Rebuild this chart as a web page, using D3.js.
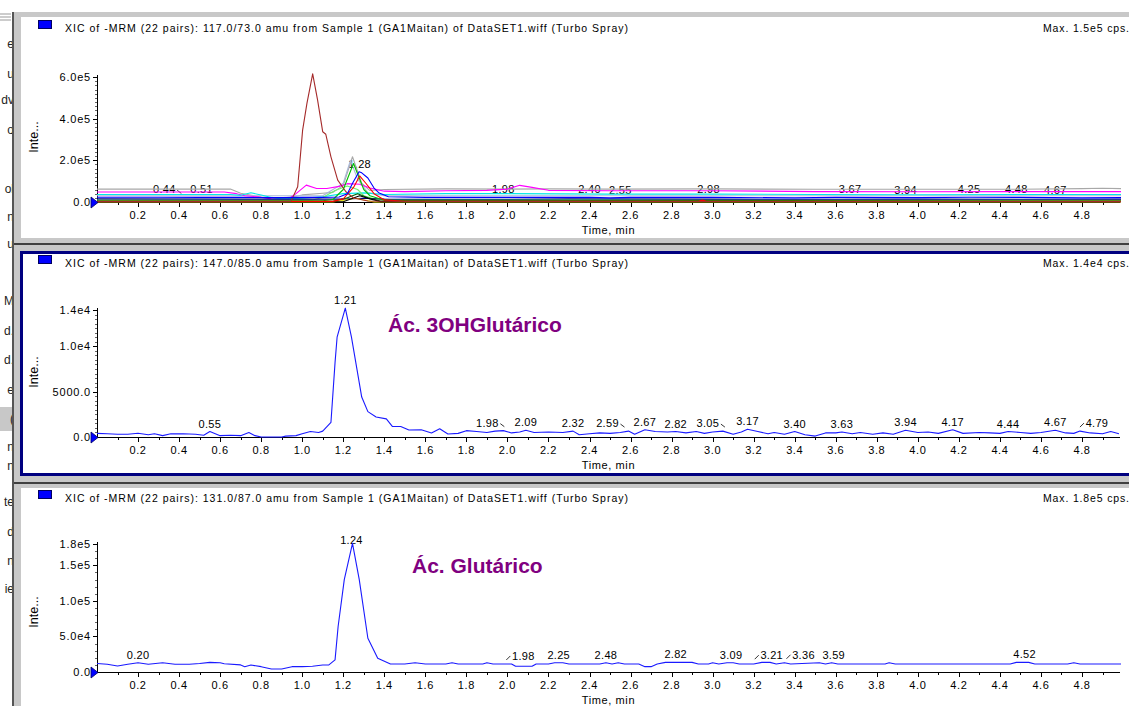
<!DOCTYPE html>
<html><head><meta charset="utf-8">
<script src="https://cdn.jsdelivr.net/npm/d3@7"></script>
<style>body{margin:0;background:#fff;overflow:hidden}svg{display:block}text{font-family:"Liberation Sans",Arial,sans-serif}</style>
</head><body>
<script>
// ---------- DATA ----------
const titles = [
 "XIC of -MRM (22 pairs): 117.0/73.0 amu from Sample 1 (GA1Maitan) of DataSET1.wiff (Turbo Spray)",
 "XIC of -MRM (22 pairs): 147.0/85.0 amu from Sample 1 (GA1Maitan) of DataSET1.wiff (Turbo Spray)",
 "XIC of -MRM (22 pairs): 131.0/87.0 amu from Sample 1 (GA1Maitan) of DataSET1.wiff (Turbo Spray)"
];
const maxTexts = ["Max. 1.5e5 cps.", "Max. 1.4e4 cps.", "Max. 1.8e5 cps."];
const xTicks = [0.2,0.4,0.6,0.8,1.0,1.2,1.4,1.6,1.8,2.0,2.2,2.4,2.6,2.8,3.0,3.2,3.4,3.6,3.8,4.0,4.2,4.4,4.6,4.8];
const yTicks1 = [0, 2e5, 4e5, 6e5], yLabels1 = ["0.0","2.0e5","4.0e5","6.0e5"];
const yTicks2 = [0, 5000, 10000, 14000], yLabels2 = ["0.0","5000.0","1.0e4","1.4e4"];
const yTicks3 = [0, 5e4, 1e5, 1.5e5, 1.8e5], yLabels3 = ["0.0","5.0e4","1.0e5","1.5e5","1.8e5"];
const annot2 = "Ác. 3OHGlutárico", annot3 = "Ác. Glutárico";

// top panel: 117.0/73.0 and overlaid transitions
const top_gray = [[0,62000],[0.65,62000],[0.7,42000],[0.8,24000],[0.9,19000],[0.95,24000],[1.0,34000],[1.1,42000],[1.15,46000],[1.2,80000],[1.245,217000],[1.29,90000],[1.33,55000],[1.4,60000],[1.7,63000],[2.0,62000],[2.2,63000],[2.5,62000],[3.0,63000],[3.5,61000],[4.0,61000],[4.5,61000],[4.8,64000],[4.9,66000],[4.99,64000]];
const top_steel = [[0,30000],[1.1,30000],[1.2,90000],[1.235,200000],[1.27,110000],[1.32,45000],[1.4,30000],[2.5,30000],[4.99,30000]];
const top_magenta = [[0,48000],[0.62,48000],[0.68,40000],[0.72,30000],[0.78,25000],[0.85,15000],[0.93,12000],[0.97,40000],[1.02,81000],[1.07,65000],[1.12,65000],[1.18,75000],[1.22,88000],[1.28,85000],[1.33,67000],[1.4,52000],[1.5,50000],[1.7,54000],[1.9,56000],[2.0,62000],[2.06,80000],[2.12,70000],[2.2,56000],[2.5,54000],[3.0,54000],[3.5,50000],[4.0,49000],[4.5,50000],[4.99,50000]];
const top_cyan = [[0,36000],[0.65,36000],[0.7,32000],[0.75,44000],[0.8,34000],[0.85,22000],[0.9,15000],[1.0,18000],[1.1,25000],[1.2,40000],[1.3,44000],[1.4,36000],[1.7,40000],[2.0,40000],[2.5,38000],[3.0,38000],[3.5,36000],[4.0,35000],[4.5,36000],[4.99,36000]];
const top_lightgreen = [[0,10000],[1.05,10000],[1.1,22000],[1.16,55000],[1.22,77000],[1.27,60000],[1.3,30000],[1.35,15000],[1.45,10000],[4.99,10000]];
const top_green = [[0,6000],[1.1,6000],[1.15,12000],[1.2,60000],[1.25,185000],[1.3,60000],[1.33,30000],[1.4,8000],[4.99,6000]];
const top_darkgreen = [[0,3000],[1.15,3000],[1.22,20000],[1.27,40000],[1.32,20000],[1.38,5000],[4.99,3000]];
const top_red = [[0,3000],[1.15,3000],[1.2,15000],[1.25,70000],[1.28,125000],[1.31,90000],[1.35,40000],[1.4,10000],[1.5,3000],[2.93,3000],[2.95,9000],[2.97,3000],[4.99,3000]];
const top_yellow = [[0,0],[1.15,0],[1.26,18000],[1.35,0],[4.99,0]];
const top_black = [[0,1000],[1.2,1000],[1.28,30000],[1.33,15000],[1.38,2000],[4.99,1000]];
const top_brown = [[0,2000],[0.9,2000],[0.945,3000],[0.978,73000],[1.002,345000],[1.023,473000],[1.051,615000],[1.075,489000],[1.1,337000],[1.115,325000],[1.14,217000],[1.173,105000],[1.213,49000],[1.25,19000],[1.32,5000],[1.5,3000],[4.99,2000]];
const top_navy = [[0,15000],[0.7,14000],[1.2,14000],[1.3,18000],[1.4,14000],[2.0,13000],[2.3,15000],[3.0,14000],[3.5,13000],[4.0,14000],[4.5,13000],[4.99,14000]];
const top_blue = [[0,23000],[0.3,23000],[0.5,22000],[0.7,22000],[0.9,21000],[1.0,22000],[1.1,22000],[1.18,24000],[1.22,40000],[1.246,91000],[1.277,145000],[1.29,140000],[1.32,115000],[1.35,67000],[1.375,43000],[1.42,25000],[1.6,22000],[2.0,22000],[2.4,23000],[2.5,20000],[2.6,22000],[3.0,22000],[3.4,20000],[3.6,22000],[4.0,21000],[4.25,23000],[4.5,22000],[4.8,20000],[4.99,21000]];
const topSeries = [top_gray, top_steel, top_magenta, top_cyan, top_lightgreen, top_navy, top_green, top_darkgreen, top_yellow, top_black, top_red, top_brown, top_blue];
const topColors = ["#a8a8a8","#aab8d8","#ff00ff","#00e8e8","#70f070","#000080","#00c000","#006400","#e0e000","#000000","#ff0000","#a52a2a","#0000ff"];

// middle panel: 147.0/85.0
const mid = [[0,400],[0.05,350],[0.1,300],[0.15,300],[0.2,420],[0.25,250],[0.28,350],[0.32,150],[0.36,350],[0.42,350],[0.48,300],[0.52,200],[0.55,600],[0.6,150],[0.65,200],[0.7,150],[0.74,500],[0.77,150],[0.8,0],[0.9,0],[0.92,100],[0.97,150],[1.0,350],[1.04,600],[1.08,500],[1.1,650],[1.14,1600],[1.16,8200],[1.17,11000],[1.21,14200],[1.24,11000],[1.29,4400],[1.32,2800],[1.36,2200],[1.41,2000],[1.44,1150],[1.48,1150],[1.52,770],[1.58,800],[1.63,450],[1.67,900],[1.71,330],[1.76,400],[1.8,700],[1.85,600],[1.9,500],[1.94,650],[1.98,700],[2.02,450],[2.06,550],[2.09,750],[2.13,500],[2.2,550],[2.27,500],[2.32,650],[2.35,250],[2.4,350],[2.45,450],[2.5,400],[2.55,500],[2.59,650],[2.62,300],[2.67,800],[2.72,600],[2.78,550],[2.82,600],[2.87,450],[2.92,600],[2.96,400],[3.0,550],[3.05,650],[3.1,300],[3.14,550],[3.17,850],[3.22,600],[3.27,350],[3.3,500],[3.35,300],[3.4,600],[3.45,250],[3.5,100],[3.55,450],[3.6,450],[3.63,550],[3.68,350],[3.72,500],[3.78,300],[3.83,450],[3.88,300],[3.94,750],[4.0,500],[4.05,550],[4.1,400],[4.17,800],[4.22,400],[4.3,500],[4.35,450],[4.4,400],[4.44,600],[4.5,500],[4.55,400],[4.6,500],[4.67,750],[4.72,450],[4.76,400],[4.79,650],[4.84,450],[4.9,350],[4.94,600],[4.98,350]];

// bottom panel: 131.0/87.0
const bot = [[0,12000],[0.05,11000],[0.1,8500],[0.15,11000],[0.2,13000],[0.25,11000],[0.32,13000],[0.38,11000],[0.45,11000],[0.5,12000],[0.55,13500],[0.6,13000],[0.62,11500],[0.7,10000],[0.72,7500],[0.75,9800],[0.8,7500],[0.85,4200],[0.9,4200],[0.95,7500],[1.0,7500],[1.05,8000],[1.1,9800],[1.13,10000],[1.16,17000],[1.175,64000],[1.205,130000],[1.245,181000],[1.278,130000],[1.32,47500],[1.368,19300],[1.43,11300],[1.5,11300],[1.55,13000],[1.6,11300],[1.7,11300],[1.73,13000],[1.76,11300],[1.88,11300],[1.9,13000],[1.93,11300],[2.02,11300],[2.04,8000],[2.12,8000],[2.14,11300],[2.2,11300],[2.23,13000],[2.27,13000],[2.3,11300],[2.45,11300],[2.48,13000],[2.51,11300],[2.54,13000],[2.57,11300],[2.64,11300],[2.67,7500],[2.7,7500],[2.73,11300],[2.77,13500],[2.9,13500],[2.93,11300],[2.98,11300],[3.0,13000],[3.03,11300],[3.07,13000],[3.1,13000],[3.13,11300],[3.2,11300],[3.24,13500],[3.28,13500],[3.31,11300],[3.35,13000],[3.38,11300],[3.52,13000],[3.55,11300],[3.58,13000],[3.61,11300],[3.84,11300],[3.86,13000],[3.89,11300],[4.45,11300],[4.48,13500],[4.54,13500],[4.57,11300],[4.73,11300],[4.76,13000],[4.79,11300],[4.99,11300]];

// peak labels (retention times)
const topPeaks = [0.44,0.51,1.28,1.98,2.40,2.55,2.98,3.67,3.94,4.25,4.48,4.67];
const midPeaks = [0.55,1.21,1.98,2.09,2.32,2.59,2.67,2.82,3.05,3.17,3.40,3.63,3.94,4.17,4.44,4.67,4.79];
const botPeaks = [0.20,1.24,1.98,2.25,2.48,2.82,3.09,3.21,3.36,3.59,4.52];

// ---------- LAYOUT ----------
const W = 1129, H = 706;
const shifts = [{0.44:-23},{1.98:-16,2.59:-21,3.05:-15,4.79:17},{1.98:20,3.21:16,3.36:17}];
const panels = [
 {y0:12, y1:243, axisY:202, topPx:77, ymax:6e5, ticks:yTicks1, labels:yLabels1, minor:2e4, inteY:137, title:28},
 {y0:243, y1:482, axisY:437, topPx:310, ymax:14000, ticks:yTicks2, labels:yLabels2, minor:500, inteY:372, title:263},
 {y0:482, y1:706, axisY:672, topPx:544, ymax:1.8e5, ticks:yTicks3, labels:yLabels3, minor:1e4, inteY:612, title:498}
];
const x = d3.scaleLinear().domain([0,4.99]).range([97,1121]);

const svg = d3.select("body").append("svg").attr("width",W).attr("height",H);

// left fragments of neighbouring window
const frag = [["e",48],["u",78],["dv",104],["o",134],["ol",193],["n",221],["u",248],["M",305],["d.",335],["d.",364],["e",394],["(",423],["n",451],["n",470],["te",506],["d",536],["n",565],["ie",593]];
svg.append("rect").attr("x",0).attr("y",407).attr("width",12).attr("height",24).attr("fill","#c8c8c8");
const clip = svg.append("clipPath").attr("id","lc"); clip.append("rect").attr("x",0).attr("y",0).attr("width",12).attr("height",H);
svg.append("g").attr("clip-path","url(#lc)").selectAll("text").data(frag).join("text")
  .attr("x",14).attr("y",d=>d[1]).attr("text-anchor","end").attr("font-size",12).attr("fill","#222").text(d=>d[0]);
[14,17,20].forEach(yy=>svg.append("line").attr("x1",0).attr("x2",11).attr("y1",yy).attr("y2",yy).attr("stroke","#999"));
svg.append("rect").attr("x",12).attr("y",12).attr("width",2).attr("height",H-12).attr("fill","#555");

panels.forEach((p,i)=>{
  const g = svg.append("g");
  g.append("rect").attr("x",14).attr("y",p.y0).attr("width",W-14).attr("height",p.y1-p.y0).attr("fill","#c8c8c8");
  if(i>0) g.append("rect").attr("x",14).attr("y",p.y0).attr("width",W-14).attr("height",2).attr("fill","#404040");
  if(i===1){
    g.append("rect").attr("x",20).attr("y",p.y0+8).attr("width",W-20).attr("height",p.y1-p.y0-14).attr("fill","#000080");
    g.append("rect").attr("x",23).attr("y",p.y0+11).attr("width",W-23).attr("height",p.y1-p.y0-20).attr("fill","#fff");
  } else {
    const top = i===0 ? p.y0+5 : p.y0+6;
    g.append("rect").attr("x",21).attr("y",top).attr("width",W-21).attr("height",(i===0?p.y1-5:H)-top).attr("fill","#fff");
  }
  // header
  g.append("rect").attr("x",38.5).attr("y",p.title-7.5).attr("width",13).attr("height",8).attr("fill","#0000ff").attr("stroke","#000060");
  g.append("text").attr("x",65).attr("y",p.title+4).attr("font-size",10.5).attr("textLength",563).attr("lengthAdjust","spacing").attr("fill","#000").text(titles[i]);
  g.append("text").attr("x",1129).attr("y",p.title+4).attr("font-size",10.5).attr("text-anchor","end").attr("textLength",86).attr("lengthAdjust","spacing").attr("fill","#000").text(maxTexts[i]);

  const y = d3.scaleLinear().domain([0,p.ymax]).range([p.axisY,p.topPx]);
  // y axis
  g.append("line").attr("x1",97.5).attr("x2",97.5).attr("y1",p.topPx-2).attr("y2",p.axisY).attr("stroke","#000");
  const minors = d3.range(0, p.ymax*1.0001 + 1, p.minor);
  g.selectAll(".ym").data(minors).join("line").attr("x1",95).attr("x2",97).attr("y1",d=>Math.round(y(d))+0.5).attr("y2",d=>Math.round(y(d))+0.5).attr("stroke","#666");
  g.selectAll(".yM").data(p.ticks).join("line").attr("x1",93).attr("x2",97).attr("y1",d=>Math.round(y(d))+0.5).attr("y2",d=>Math.round(y(d))+0.5).attr("stroke","#000");
  g.selectAll(".yl").data(p.ticks).join("text").attr("x",91).attr("y",d=>y(d)+4).attr("text-anchor","end").attr("font-size",11).attr("letter-spacing",0.8).attr("fill","#000").text((d,k)=>p.labels[k]);
  // x axis
  g.append("line").attr("x1",97).attr("x2",1120).attr("y1",p.axisY+0.5).attr("y2",p.axisY+0.5).attr("stroke","#000");
  const xmin = d3.range(1,50).map(k=>k/10);
  g.selectAll(".xm").data(xmin).join("line").attr("x1",d=>Math.round(x(d))+0.5).attr("x2",d=>Math.round(x(d))+0.5).attr("y1",p.axisY).attr("y2",p.axisY+3).attr("stroke","#000");
  g.selectAll(".xM").data(xTicks).join("line").attr("x1",d=>Math.round(x(d))+0.5).attr("x2",d=>Math.round(x(d))+0.5).attr("y1",p.axisY).attr("y2",p.axisY+5).attr("stroke","#000");
  g.selectAll(".xl").data(xTicks).join("text").attr("x",d=>x(d)).attr("y",p.axisY+17).attr("text-anchor","middle").attr("font-size",11).attr("letter-spacing",0.6).attr("fill","#000").text(d=>d.toFixed(1));
  g.append("text").attr("x",(x(0)+1120)/2).attr("y",p.axisY+32).attr("text-anchor","middle").attr("font-size",11).attr("letter-spacing",0.6).attr("fill","#000").text("Time, min");
  g.append("text").attr("transform",`translate(38,${p.inteY}) rotate(-90)`).attr("text-anchor","middle").attr("font-size",12.5).attr("fill","#000").text("Inte...");

  const series = i===0 ? topSeries : (i===1 ? [mid] : [bot]);
  const colors = i===0 ? topColors : ["#1a1aff"];
  const labelSeries = i===0 ? top_blue : series[0];
  const peaks = [topPeaks, midPeaks, botPeaks][i];
  const valAt = (s,t)=>{ let v=0; for(let k=0;k<s.length-1;k++){ if(t>=s[k][0]&&t<=s[k+1][0]){ const f=(t-s[k][0])/(s[k+1][0]-s[k][0]); v=s[k][1]+f*(s[k+1][1]-s[k][1]); break; } } return v; };
  // peak labels
  peaks.forEach(t=>{
    const v = Math.max(valAt(labelSeries,t), valAt(labelSeries,t-0.01), valAt(labelSeries,t+0.01));
    const by = y(v) - 4;
    const dx = shifts[i][t] || 0;
    const cx = x(t) + dx;
    g.append("text").attr("x",cx).attr("y",by).attr("text-anchor","middle").attr("font-size",11).attr("letter-spacing",0.3).attr("fill","#000").text(t.toFixed(2));
    if(dx<0){ const r = cx+12; g.append("line").attr("x1",r+1).attr("y1",by-3).attr("x2",r+5).attr("y2",by).attr("stroke","#333"); }
    if(dx>0){ const l = cx-12; g.append("line").attr("x1",l-5).attr("y1",by).attr("x2",l-1).attr("y2",by-4).attr("stroke","#333"); }
  });
  // traces
  const line = d3.line().x(d=>x(d[0])).y(d=>y(d[1]));
  series.forEach((s,k)=>{
    g.append("path").attr("d",line(s)).attr("fill","none").attr("stroke",colors[k]).attr("stroke-width",1.1).attr("stroke-linejoin","round");
  });
  // start marker
  g.append("path").attr("d",`M91,${p.axisY-5}L98,${p.axisY+0.5}L91,${p.axisY+6}Z`).attr("fill","#0000ff").attr("stroke","#000060").attr("stroke-width",0.8);
});

svg.append("text").attr("x",388).attr("y",332).attr("font-size",21).attr("font-weight","bold").attr("fill","#800080").text(annot2);
svg.append("text").attr("x",412).attr("y",573).attr("font-size",21).attr("font-weight","bold").attr("fill","#800080").text(annot3);
</script>
</body></html>
